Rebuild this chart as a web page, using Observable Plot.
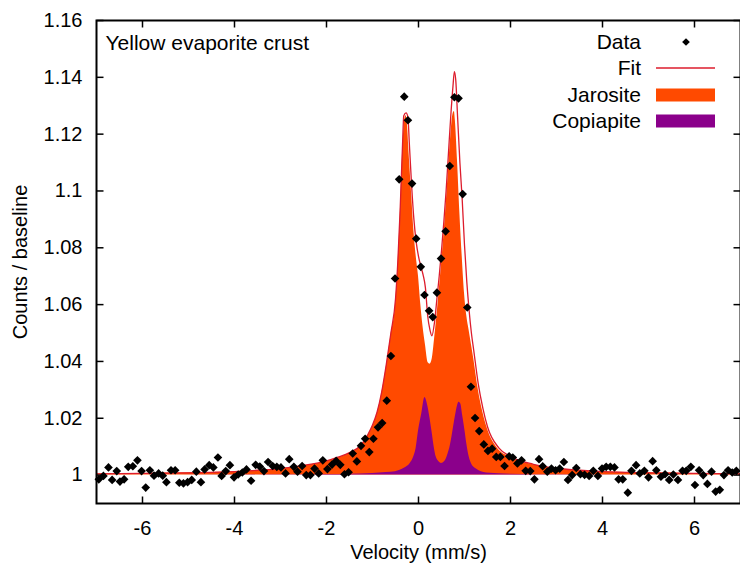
<!DOCTYPE html>
<html><head><meta charset="utf-8">
<script src="https://cdn.jsdelivr.net/npm/d3@7"></script>
<script src="https://cdn.jsdelivr.net/npm/@observablehq/plot@0.6"></script>
<style>
body{margin:0;background:#fff;}
#chart{position:relative;width:740px;height:563px;}
</style></head><body><div id="chart"></div>
<script>
const xTicks = [-6, -4, -2, 0, 2, 4, 6];
const yTicks = [1, 1.02, 1.04, 1.06, 1.08, 1.1, 1.12, 1.14, 1.16];
const sampleLabel = "Yellow evaporite crust";
const xLabel = "Velocity (mm/s)";
const yLabel = "Counts / baseline";
const seriesNames = ["Data", "Fit", "Jarosite", "Copiapite"];

// measured points [velocity, counts/baseline]
const dataPoints = [
[-6.95,0.9985],[-6.85,0.9997],[-6.74,1.0027],[-6.66,0.9983],[-6.56,1.0014],[-6.49,0.9977],[-6.40,0.9985],[-6.31,1.0029],
[-6.21,1.0031],[-6.11,1.0052],[-6.02,1.0014],[-5.93,0.9956],[-5.84,1.0017],[-5.75,0.9998],[-5.65,1.0006],[-5.56,0.9998],
[-5.48,0.9975],[-5.38,1.0017],[-5.29,1.0017],[-5.20,0.9973],[-5.11,0.9971],[-5.02,0.9975],[-4.93,0.9983],[-4.83,1.0012],
[-4.73,0.9975],[-4.65,1.0020],[-4.55,1.0035],[-4.46,1.0027],[-4.36,1.0062],[-4.28,0.9997],[-4.19,1.0014],[-4.10,1.0035],
[-4.01,0.9992],[-3.92,1.0002],[-3.83,1.0009],[-3.74,1.0020],[-3.64,0.9980],[-3.54,1.0036],[-3.45,1.0030],[-3.36,1.0014],
[-3.27,1.0046],[-3.17,1.0032],[-3.08,1.0029],[-2.99,1.0027],[-2.89,1.0006],[-2.81,1.0056],[-2.71,1.0029],[-2.63,1.0012],
[-2.53,1.0032],[-2.44,1.0000],[-2.35,1.0000],[-2.26,1.0023],[-2.17,1.0006],[-2.08,1.0052],[-1.98,1.0021],[-1.88,1.0037],
[-1.79,1.0050],[-1.70,1.0036],[-1.61,1.0003],[-1.52,1.0010],[-1.43,1.0076],[-1.34,1.0048],[-1.25,1.0103],[-1.16,1.0128],
[-1.07,1.0081],[-0.98,1.0128],[-0.88,1.0168],[-0.79,1.0183],[-0.69,1.0262],[-0.60,1.0419],[-0.51,1.0692],[-0.42,1.1041],
[-0.31,1.1332],[-0.23,1.1249],[-0.14,1.1026],[-0.05,1.0832],[0.05,1.0733],[0.13,1.0634],[0.23,1.0578],[0.31,1.0556],
[0.40,1.0642],[0.49,1.0762],[0.59,1.0858],[0.68,1.1088],[0.78,1.1330],[0.87,1.1326],[0.96,1.0989],[1.06,1.0590],
[1.14,1.0311],[1.23,1.0201],[1.32,1.0155],[1.42,1.0108],[1.51,1.0085],[1.60,1.0093],[1.69,1.0064],[1.78,1.0064],
[1.87,1.0032],[1.97,1.0066],[2.05,1.0062],[2.15,1.0041],[2.24,1.0052],[2.33,1.0015],[2.43,1.0014],[2.52,0.9985],
[2.62,1.0056],[2.70,1.0031],[2.80,1.0012],[2.89,1.0023],[2.98,1.0017],[3.07,1.0023],[3.16,1.0046],[3.25,0.9983],
[3.34,1.0000],[3.43,1.0025],[3.52,1.0003],[3.61,1.0001],[3.71,0.9997],[3.80,1.0015],[3.90,0.9997],[3.99,1.0023],
[4.08,1.0029],[4.17,1.0029],[4.26,1.0027],[4.35,0.9985],[4.44,0.9985],[4.55,0.9938],[4.63,1.0015],[4.73,1.0035],
[4.81,1.0006],[4.91,1.0015],[5.00,0.9992],[5.09,1.0049],[5.17,1.0017],[5.27,0.9994],[5.36,1.0003],[5.45,0.9983],
[5.54,1.0002],[5.64,0.9983],[5.74,1.0015],[5.82,1.0015],[5.92,1.0029],[6.01,0.9965],[6.10,1.0017],[6.19,1.0000],
[6.28,0.9969],[6.37,1.0012],[6.46,0.9942],[6.55,0.9948],[6.64,1.0000],[6.73,1.0017],[6.82,1.0009],[6.91,1.0015]
];

// Jarosite component [velocity, value]
const jarosite = [
[-7,1.0004],[-6,1.0006],[-5,1.0008],[-4,1.0012],[-3.5,1.0016],[-3,1.0022],[-2.5,1.0032],[-2,1.0048],[-1.75,1.006],
[-1.5,1.0076],[-1.25,1.0102],[-1.1,1.0138],[-1,1.017],[-0.9,1.0215],[-0.8,1.0285],[-0.7,1.038],[-0.6,1.049],[-0.5,1.06],
[-0.45,1.073],[-0.4,1.09],[-0.35,1.112],[-0.3,1.125],[-0.27,1.1265],[-0.25,1.125],[-0.2,1.112],[-0.15,1.099],[-0.1,1.086],
[-0.05,1.077],[0,1.07],[0.05,1.06],[0.1,1.052],[0.15,1.046],[0.21,1.0395],[0.25,1.039],[0.3,1.041],[0.35,1.048],[0.4,1.056],
[0.45,1.065],[0.5,1.074],[0.55,1.084],[0.6,1.095],[0.65,1.107],[0.7,1.119],[0.75,1.127],[0.78,1.128],[0.8,1.125],[0.85,1.11],
[0.9,1.092],[0.95,1.077],[1,1.064],[1.05,1.056],[1.1,1.051],[1.15,1.046],[1.2,1.041],[1.3,1.03],[1.4,1.022],[1.5,1.0162],
[1.7,1.0098],[2,1.0062],[2.5,1.0036],[3,1.0023],[3.5,1.0016],[4,1.0012],[5,1.0008],[6,1.0006],[7,1.0004]
];

// Copiapite component [velocity, value]
const copiapite = [
[-7,1],[-3,1.0001],[-2,1.0002],[-1.5,1.0003],[-1,1.0006],[-0.7,1.0009],[-0.5,1.0012],[-0.4,1.0017],[-0.3,1.0025],
[-0.18,1.0041],[-0.1,1.0065],[-0.05,1.0095],[0,1.0155],[0.07,1.0215],[0.14,1.0273],[0.2,1.0245],[0.25,1.02],[0.29,1.0157],
[0.35,1.009],[0.38,1.0066],[0.45,1.0046],[0.5,1.0041],[0.57,1.0048],[0.62,1.0064],[0.7,1.011],[0.75,1.0157],[0.8,1.0205],
[0.85,1.0245],[0.88,1.0256],[0.92,1.025],[0.96,1.021],[1.01,1.0157],[1.05,1.011],[1.1,1.0065],[1.15,1.0041],[1.25,1.0022],
[1.48,1.0007],[2,1.0003],[3,1.0001],[7,1]
];

// Total fit [velocity, value]
const fit = [
[-7,1.0004],[-6,1.0006],[-5,1.0008],[-4,1.0012],[-3.5,1.0017],[-3,1.0023],[-2.5,1.0034],[-2,1.005],[-1.75,1.0063],
[-1.5,1.0079],[-1.25,1.0106],[-1.1,1.0143],[-1,1.0176],[-0.9,1.0222],[-0.8,1.0293],[-0.7,1.039],[-0.6,1.05],[-0.5,1.062],
[-0.45,1.075],[-0.4,1.093],[-0.35,1.115],[-0.32,1.1265],[-0.27,1.1275],[-0.23,1.126],[-0.2,1.117],[-0.15,1.102],[-0.1,1.09],
[-0.05,1.082],[0,1.077],[0.05,1.0735],[0.1,1.0705],[0.15,1.066],[0.2,1.056],[0.25,1.051],[0.29,1.049],[0.35,1.054],
[0.4,1.062],[0.45,1.07],[0.5,1.079],[0.55,1.089],[0.6,1.1],[0.65,1.113],[0.7,1.126],[0.75,1.137],[0.78,1.142],[0.81,1.139],
[0.85,1.126],[0.9,1.11],[0.95,1.097],[1,1.081],[1.05,1.068],[1.1,1.058],[1.15,1.05],[1.2,1.044],[1.3,1.032],[1.4,1.0235],
[1.5,1.017],[1.75,1.0095],[2,1.0065],[2.5,1.0038],[3,1.0024],[3.5,1.0017],[4,1.0012],[5,1.0008],[6,1.0006],[7,1.0004]
];

const ORANGE = "#ff4a00", PURPLE = "#8b008b", RED = "#dd1c2c";
const FONT = "'Liberation Sans', Arial, sans-serif";
const tick = (dx, dy) => ({draw(ctx) { ctx.moveTo(0, 0); ctx.lineTo(dx, dy); }});

const plot = Plot.plot({
  width: 740, height: 563,
  marginLeft: 96, marginRight: 0, marginTop: 20, marginBottom: 60,
  style: {fontFamily: FONT, fontSize: "20px", color: "black", background: "white"},
  x: {domain: [-7, 7]},
  y: {domain: [0.99, 1.16]},
  marks: [
    Plot.areaY(jarosite, {x: d => d[0], y1: 1, y2: d => d[1], fill: ORANGE, curve: "monotone-x"}),
    Plot.areaY(copiapite, {x: d => d[0], y1: 1, y2: d => d[1], fill: PURPLE, curve: "monotone-x"}),
    Plot.line(fit, {x: d => d[0], y: d => d[1], stroke: RED, strokeWidth: 1.3, curve: "monotone-x"}),
    Plot.dot(dataPoints, {x: d => d[0], y: d => d[1], symbol: "diamond2", r: 3.9, fill: "black"}),
    Plot.frame({stroke: "black", strokeWidth: 2}),
    Plot.dot(xTicks, {x: d => d, frameAnchor: "bottom", symbol: tick(0, -7), stroke: "black", strokeWidth: 1.5, fill: "none"}),
    Plot.dot(xTicks, {x: d => d, frameAnchor: "top", symbol: tick(0, 7), stroke: "black", strokeWidth: 1.5, fill: "none"}),
    Plot.dot(yTicks, {y: d => d, frameAnchor: "left", symbol: tick(7, 0), stroke: "black", strokeWidth: 1.5, fill: "none"}),
    Plot.dot(yTicks, {y: d => d, frameAnchor: "right", symbol: tick(-7, 0), stroke: "black", strokeWidth: 1.5, fill: "none"}),
    Plot.axisX({ticks: xTicks, tickFormat: d => String(d), tickSize: 0, tickPadding: 17,
      label: xLabel, labelAnchor: "center", labelOffset: 55, labelArrow: "none"}),
    Plot.axisY({ticks: yTicks, tickFormat: d => String(+d.toFixed(2)), tickSize: 0, tickPadding: 14,
      label: yLabel, labelAnchor: "center", labelOffset: 84, labelArrow: "none"}),
    Plot.text([sampleLabel], {text: d => d, frameAnchor: "top-left", dx: 9, dy: 15,
      textAnchor: "start", lineAnchor: "top", fontSize: 21})
  ]
});

// legend (inside plot, top right)
const svg = d3.select(plot);
const lg = svg.append("g").attr("font-family", FONT).attr("font-size", 21);
const rowY = [42, 68, 95, 121];
seriesNames.forEach((name, i) => {
  const y = rowY[i];
  lg.append("text").attr("x", 641).attr("y", y).attr("dy", "0.35em")
    .attr("text-anchor", "end").attr("fill", "black").text(name);
  if (i === 0) {
    lg.append("path").attr("transform", `translate(686,${y})`)
      .attr("d", d3.symbol(d3.symbolDiamond2, Math.PI * 12)()).attr("fill", "black");
  } else if (i === 1) {
    lg.append("line").attr("x1", 656).attr("x2", 715).attr("y1", y).attr("y2", y)
      .attr("stroke", RED).attr("stroke-width", 1.3);
  } else {
    lg.append("rect").attr("x", 656).attr("y", y - 6.5).attr("width", 59).attr("height", 13)
      .attr("fill", i === 2 ? ORANGE : PURPLE);
  }
});

document.getElementById("chart").appendChild(plot);
</script>
</body></html>
